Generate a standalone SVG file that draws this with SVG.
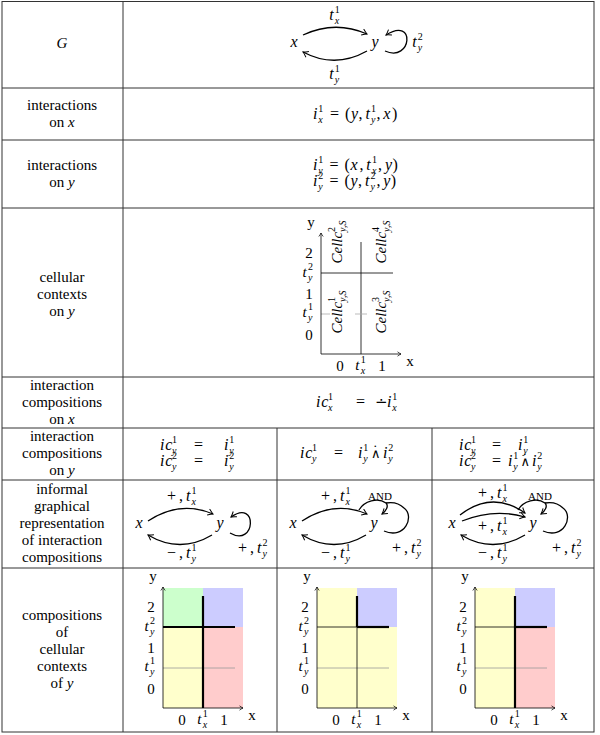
<svg xmlns="http://www.w3.org/2000/svg" xmlns:xlink="http://www.w3.org/1999/xlink" width="600" height="735" viewBox="0 0 600 735" font-family="'Liberation Serif', 'DejaVu Serif', serif">
<style>
.grid{stroke:#333;stroke-width:1;fill:none}
.t{font-family:'Liberation Serif','DejaVu Serif',serif;font-size:15px;fill:#000}
.m{font-size:16px}
.c{text-anchor:middle}
.i{font-style:italic}
.n{font-style:normal}
.s{font-size:10px}
.sym{font-family:'DejaVu Sans',sans-serif}
.e{stroke:#000;stroke-width:1.3;fill:none}
.ea{stroke:#000;stroke-width:1.3;fill:none;marker-end:url(#ah)}
.ax{stroke:#000;stroke-width:0.8;fill:none;marker-end:url(#ax)}
.thin{stroke:#000;stroke-width:0.8;fill:none}
.thick{stroke:#000;stroke-width:2.2;fill:none}
.gray{stroke:#999;stroke-width:0.8;fill:none}
.dash{stroke:#aaa;stroke-width:0.8;fill:none;stroke-dasharray:9 25 12 100}
.sm{font-size:11px}
</style>
<defs>
<marker id="ah" viewBox="-6 -4 7 8" refX="0" refY="0" markerWidth="7" markerHeight="8" orient="auto" markerUnits="userSpaceOnUse">
<path d="M-5,-3.2 Q-1.5,-0.6 0,0 Q-1.5,0.6 -5,3.2" fill="none" stroke="#000" stroke-width="1"/>
</marker>
<marker id="ax" viewBox="-4 -3 5 6" refX="0" refY="0" markerWidth="5" markerHeight="6" orient="auto" markerUnits="userSpaceOnUse">
<path d="M-3.5,-2.2 Q-1,-0.4 0,0 Q-1,0.4 -3.5,2.2" fill="none" stroke="#000" stroke-width="0.7"/>
</marker>
<g id="axes">
<line class="ax" x1="0" y1="0" x2="0" y2="-121"/>
<line class="ax" x1="0" y1="0" x2="80" y2="0"/>
</g>
<g id="ticks">
<text class="t c" x="-10" y="-127">y</text>
<text class="t c" x="89" y="12">x</text>
<text class="t c" x="-12" y="-96">2</text>
<text class="t i"><tspan x="-18.5" y="-77">t</tspan><tspan class="s n" x="-13" y="-84">2</tspan><tspan class="s" x="-13" y="-73">y</tspan></text>
<text class="t c" x="-12" y="-55">1</text>
<text class="t i"><tspan x="-18.5" y="-37">t</tspan><tspan class="s n" x="-13" y="-44">1</tspan><tspan class="s" x="-13" y="-33">y</tspan></text>
<text class="t c" x="-12" y="-14">0</text>
<text class="t c" x="19" y="17">0</text>
<text class="t i"><tspan x="34.2" y="16">t</tspan><tspan class="s n" x="39.8" y="9">1</tspan><tspan class="s" x="39.8" y="20">x</tspan></text>
<text class="t c" x="61" y="17">1</text>
</g>
</defs>
<rect x="0" y="0" width="600" height="735" fill="#fff"/>

<g id="table" class="grid">
<rect x="2" y="1.5" width="592" height="730.5"/>
<line x1="123" y1="1.5" x2="123" y2="732"/>
<line x1="2" y1="88" x2="594" y2="88"/>
<line x1="2" y1="140" x2="594" y2="140"/>
<line x1="2" y1="208" x2="594" y2="208"/>
<line x1="2" y1="377" x2="594" y2="377"/>
<line x1="2" y1="428" x2="594" y2="428"/>
<line x1="2" y1="480" x2="594" y2="480"/>
<line x1="2" y1="568" x2="594" y2="568"/>
<line x1="277" y1="428" x2="277" y2="732"/>
<line x1="432" y1="428" x2="432" y2="732"/>
</g>

<g id="row-labels">
<text class="t i c" x="62" y="48" font-size="17">G</text>
<text class="t c" x="62" y="110">interactions</text>
<text class="t c" x="62" y="127">on <tspan class="i">x</tspan></text>
<text class="t c" x="62" y="170">interactions</text>
<text class="t c" x="62" y="187">on <tspan class="i">y</tspan></text>
<text class="t c" x="62" y="282">cellular</text>
<text class="t c" x="62" y="299">contexts</text>
<text class="t c" x="62" y="316">on <tspan class="i">y</tspan></text>
<text class="t c" x="62" y="390">interaction</text>
<text class="t c" x="62" y="407">compositions</text>
<text class="t c" x="62" y="424">on <tspan class="i">x</tspan></text>
<text class="t c" x="62" y="441">interaction</text>
<text class="t c" x="62" y="458">compositions</text>
<text class="t c" x="62" y="475">on <tspan class="i">y</tspan></text>
<text class="t c" x="62" y="494">informal</text>
<text class="t c" x="62" y="511">graphical</text>
<text class="t c" x="62" y="528">representation</text>
<text class="t c" x="62" y="545">of interaction</text>
<text class="t c" x="62" y="562">compositions</text>
<text class="t c" x="62" y="620">compositions</text>
<text class="t c" x="62" y="637">of</text>
<text class="t c" x="62" y="654">cellular</text>
<text class="t c" x="62" y="671">contexts</text>
<text class="t c" x="62" y="688">of <tspan class="i">y</tspan></text>
</g>

<g id="node-G-x"><text class="t i m c" x="294" y="47">x</text></g>
<g id="node-G-y"><text class="t i m c" x="375" y="47">y</text></g>
<g id="graph-G-labels">
<text class="t i m"><tspan x="329.2" y="20">t</tspan><tspan class="s n" x="334.8" y="13">1</tspan><tspan class="s" x="334.8" y="24">x</tspan></text>
<text class="t i m"><tspan x="329.2" y="79">t</tspan><tspan class="s n" x="334.8" y="72">1</tspan><tspan class="s" x="334.8" y="83">y</tspan></text>
<text class="t i m"><tspan x="412.2" y="47">t</tspan><tspan class="s n" x="417.8" y="40">2</tspan><tspan class="s" x="417.8" y="51">y</tspan></text>
</g>

<g id="formula-ix">
<text class="t i m"><tspan x="313" y="119">i</tspan><tspan class="s n" x="318.3" y="112">1</tspan><tspan class="s" x="318.3" y="123">x</tspan><tspan class="n" x="330" y="119">=</tspan><tspan class="n" x="345.1" y="119">(</tspan><tspan x="351.1" y="119">y</tspan><tspan class="n" x="358.6" y="119">,</tspan><tspan x="365.5" y="119">t</tspan><tspan class="s n" x="371.1" y="112">1</tspan><tspan class="s" x="371.1" y="123">y</tspan><tspan class="n" x="376.4" y="119">,</tspan><tspan x="383.3" y="119">x</tspan><tspan class="n" x="392.1" y="119">)</tspan></text>
</g>

<g id="formula-iy">
<text class="t i m"><tspan x="313" y="170">i</tspan><tspan class="s n" x="318.3" y="163">1</tspan><tspan class="s" x="318.3" y="174">y</tspan><tspan class="n" x="329.5" y="170">=</tspan><tspan class="n" x="344.6" y="170">(</tspan><tspan x="350.6" y="170">x</tspan><tspan class="n" x="359.4" y="170">,</tspan><tspan x="366.3" y="170">t</tspan><tspan class="s n" x="371.9" y="163">1</tspan><tspan class="s" x="371.9" y="174">x</tspan><tspan class="n" x="378.1" y="170">,</tspan><tspan x="385" y="170">y</tspan><tspan class="n" x="392.5" y="170">)</tspan></text>
<text class="t i m"><tspan x="313" y="186">i</tspan><tspan class="s n" x="318.3" y="179">2</tspan><tspan class="s" x="318.3" y="190">y</tspan><tspan class="n" x="329.5" y="186">=</tspan><tspan class="n" x="344.6" y="186">(</tspan><tspan x="350.6" y="186">y</tspan><tspan class="n" x="358.1" y="186">,</tspan><tspan x="365" y="186">t</tspan><tspan class="s n" x="370.6" y="179">2</tspan><tspan class="s" x="370.6" y="190">y</tspan><tspan class="n" x="376.4" y="186">,</tspan><tspan x="383.3" y="186">y</tspan><tspan class="n" x="390.8" y="186">)</tspan></text>
</g>

<g id="cell-contexts" transform="translate(321,354)">
<line class="thin" x1="40" y1="-112" x2="40" y2="0"/>
<line class="thin" x1="0" y1="-81" x2="72" y2="-81"/>
<line class="dash" x1="0" y1="-40" x2="72" y2="-40"/>
<use xlink:href="#axes"/>
<use xlink:href="#ticks"/>
<text class="t i c" transform="translate(19,-112) rotate(-90)" y="2">Cellc<tspan class="s n" dy="-7">2</tspan><tspan class="s" dx="-5" dy="11">y,S</tspan></text>
<text class="t i c" transform="translate(63,-112) rotate(-90)" y="2">Cellc<tspan class="s n" dy="-7">4</tspan><tspan class="s" dx="-5" dy="11">y,S</tspan></text>
<text class="t i c" transform="translate(19,-42) rotate(-90)" y="2">Cellc<tspan class="s n" dy="-7">1</tspan><tspan class="s" dx="-5" dy="11">y,S</tspan></text>
<text class="t i c" transform="translate(63,-42) rotate(-90)" y="2">Cellc<tspan class="s n" dy="-7">3</tspan><tspan class="s" dx="-5" dy="11">y,S</tspan></text>
</g>

<g id="formula-icx">
<text class="t i m"><tspan x="316" y="407">i</tspan><tspan x="321.3" y="407">c</tspan><tspan class="s n" x="328" y="400">1</tspan><tspan class="s" x="328" y="411">x</tspan><tspan class="n" x="356" y="407">=</tspan><tspan class="n sym" x="375" y="407" font-size="15">∸</tspan><tspan x="387" y="407">i</tspan><tspan class="s n" x="392.3" y="400">1</tspan><tspan class="s" x="392.3" y="411">x</tspan></text>
</g>

<g id="formula-icy-a">
<text class="t i m"><tspan x="160" y="450">i</tspan><tspan x="165.3" y="450">c</tspan><tspan class="s n" x="172" y="443">1</tspan><tspan class="s" x="172" y="454">y</tspan><tspan class="n" x="194" y="450">=</tspan><tspan x="224" y="450">i</tspan><tspan class="s n" x="229.3" y="443">1</tspan><tspan class="s" x="229.3" y="454">y</tspan></text>
<text class="t i m"><tspan x="160" y="466">i</tspan><tspan x="165.3" y="466">c</tspan><tspan class="s n" x="172" y="459">2</tspan><tspan class="s" x="172" y="470">y</tspan><tspan class="n" x="194" y="466">=</tspan><tspan x="224" y="466">i</tspan><tspan class="s n" x="229.3" y="459">2</tspan><tspan class="s" x="229.3" y="470">y</tspan></text>
</g>
<g id="formula-icy-b">
<text class="t i m"><tspan x="300" y="458">i</tspan><tspan x="305.3" y="458">c</tspan><tspan class="s n" x="312" y="451">1</tspan><tspan class="s" x="312" y="462">y</tspan><tspan class="n" x="334" y="458">=</tspan><tspan x="358" y="458">i</tspan><tspan class="s n" x="363.3" y="451">1</tspan><tspan class="s" x="363.3" y="462">y</tspan><tspan class="n sym" x="371" y="458" font-size="13">∧</tspan><tspan x="383" y="458">i</tspan><tspan class="s n" x="388.3" y="451">2</tspan><tspan class="s" x="388.3" y="462">y</tspan></text>
<text class="t c" x="375.3" y="455">˙</text>
</g>
<g id="formula-icy-c">
<text class="t i m"><tspan x="459" y="450">i</tspan><tspan x="464.3" y="450">c</tspan><tspan class="s n" x="471" y="443">1</tspan><tspan class="s" x="471" y="454">y</tspan><tspan class="n" x="492" y="450">=</tspan><tspan x="518" y="450">i</tspan><tspan class="s n" x="523.3" y="443">1</tspan><tspan class="s" x="523.3" y="454">y</tspan></text>
<text class="t i m"><tspan x="459" y="466">i</tspan><tspan x="464.3" y="466">c</tspan><tspan class="s n" x="471" y="459">2</tspan><tspan class="s" x="471" y="470">y</tspan><tspan class="n" x="492" y="466">=</tspan><tspan x="508" y="466">i</tspan><tspan class="s n" x="513.3" y="459">1</tspan><tspan class="s" x="513.3" y="470">y</tspan><tspan class="n sym" x="520.5" y="466" font-size="13">∧</tspan><tspan x="532" y="466">i</tspan><tspan class="s n" x="537.3" y="459">2</tspan><tspan class="s" x="537.3" y="470">y</tspan></text>
<text class="t c" x="524.8" y="463">˙</text>
</g>

<g id="node-A-x"><text class="t i m c" x="139" y="528">x</text></g>
<g id="node-A-y"><text class="t i m c" x="220" y="528">y</text></g>
<g id="node-B-x"><text class="t i m c" x="293" y="528">x</text></g>
<g id="node-B-y"><text class="t i m c" x="374" y="528">y</text></g>
<g id="node-C-x"><text class="t i m c" x="452" y="528">x</text></g>
<g id="node-C-y"><text class="t i m c" x="533" y="528">y</text></g>

<g id="informal-labels">
<text class="t i m"><tspan class="n" x="167" y="501">+</tspan><tspan class="n" x="179" y="501">,</tspan><tspan x="185.9" y="501">t</tspan><tspan class="s n" x="191.5" y="494">1</tspan><tspan class="s" x="191.5" y="505">x</tspan></text>
<text class="t i m"><tspan class="n" x="167" y="558">−</tspan><tspan class="n" x="179" y="558">,</tspan><tspan x="185.9" y="558">t</tspan><tspan class="s n" x="191.5" y="551">1</tspan><tspan class="s" x="191.5" y="562">y</tspan></text>
<text class="t i m"><tspan class="n" x="238" y="553">+</tspan><tspan class="n" x="250" y="553">,</tspan><tspan x="256.9" y="553">t</tspan><tspan class="s n" x="262.5" y="546">2</tspan><tspan class="s" x="262.5" y="557">y</tspan></text>

<text class="t i m"><tspan class="n" x="321" y="501">+</tspan><tspan class="n" x="333" y="501">,</tspan><tspan x="339.9" y="501">t</tspan><tspan class="s n" x="345.5" y="494">1</tspan><tspan class="s" x="345.5" y="505">x</tspan></text>
<text class="t sm c" x="380" y="500">AND</text>
<text class="t i m"><tspan class="n" x="321" y="558">−</tspan><tspan class="n" x="333" y="558">,</tspan><tspan x="339.9" y="558">t</tspan><tspan class="s n" x="345.5" y="551">1</tspan><tspan class="s" x="345.5" y="562">y</tspan></text>
<text class="t i m"><tspan class="n" x="392" y="553">+</tspan><tspan class="n" x="404" y="553">,</tspan><tspan x="410.9" y="553">t</tspan><tspan class="s n" x="416.5" y="546">2</tspan><tspan class="s" x="416.5" y="557">y</tspan></text>

<text class="t i m"><tspan class="n" x="478" y="498">+</tspan><tspan class="n" x="490" y="498">,</tspan><tspan x="496.9" y="498">t</tspan><tspan class="s n" x="502.5" y="491">1</tspan><tspan class="s" x="502.5" y="502">x</tspan></text>
<text class="t sm c" x="540" y="500">AND</text>
<text class="t i m"><tspan class="n" x="478" y="531">+</tspan><tspan class="n" x="490" y="531">,</tspan><tspan x="496.9" y="531">t</tspan><tspan class="s n" x="502.5" y="524">1</tspan><tspan class="s" x="502.5" y="535">x</tspan></text>
<text class="t i m"><tspan class="n" x="478" y="558">−</tspan><tspan class="n" x="490" y="558">,</tspan><tspan x="496.9" y="558">t</tspan><tspan class="s n" x="502.5" y="551">1</tspan><tspan class="s" x="502.5" y="562">y</tspan></text>
<text class="t i m"><tspan class="n" x="552" y="553">+</tspan><tspan class="n" x="564" y="553">,</tspan><tspan x="570.9" y="553">t</tspan><tspan class="s n" x="576.5" y="546">2</tspan><tspan class="s" x="576.5" y="557">y</tspan></text>
</g>

<g id="connectors">
<path class="ea" d="M303,35 Q335,20 367,34"/>
<path class="ea" d="M367,51 Q335,69 303,52"/>
<path class="ea" d="M385,51 C412,63 416,16 386,35"/>

<path class="ea" d="M148,521 Q180,500 213,514"/>
<path class="ea" d="M212,535 Q180,554 148,535"/>
<path class="ea" d="M230,533 C256,548 258,498 231,517"/>

<path class="ea" d="M302,521 Q334,500 367,514"/>
<path class="ea" d="M366,535 Q334,554 302,535"/>
<path class="ea" d="M359,510 C364,501 378,497 386,503 C389,506 386,511 382,514"/>
<path class="e" d="M384,531 C405,540 415,516 404,508 C399,503 392,502 386,503"/>

<path class="ea" d="M460,515 Q492,490 525,513"/>
<path class="ea" d="M462,521 Q494,508 525,517"/>
<path class="ea" d="M525,535 Q493,554 461,535"/>
<path class="ea" d="M518,510 C523,501 537,497 545,503 C548,506 545,511 541,514"/>
<path class="e" d="M543,531 C564,540 574,516 563,508 C558,503 551,502 545,503"/>
</g>

<g id="panel-a" transform="translate(163,708)">
<rect x="0" y="-120" width="40" height="39" fill="#ccffcc"/>
<rect x="40" y="-120" width="40" height="39" fill="#ccccff"/>
<rect x="0" y="-81" width="40" height="81" fill="#ffffcc"/>
<rect x="40" y="-81" width="40" height="81" fill="#ffcccc"/>
<line class="gray" x1="0" y1="-40" x2="72" y2="-40"/>
<line class="thick" x1="40" y1="-112" x2="40" y2="0"/>
<line class="thick" x1="0" y1="-81" x2="72" y2="-81"/>
<use xlink:href="#axes"/>
<use xlink:href="#ticks"/>
</g>
<g id="panel-b" transform="translate(317,708)">
<rect x="0" y="-120" width="80" height="120" fill="#ffffcc"/>
<rect x="40" y="-120" width="40" height="39" fill="#ccccff"/>
<line class="gray" x1="0" y1="-40" x2="72" y2="-40"/>
<line class="thin" x1="40" y1="-81" x2="40" y2="0"/>
<line class="thin" x1="0" y1="-81" x2="40" y2="-81"/>
<line class="thick" x1="40" y1="-112" x2="40" y2="-81"/>
<line class="thick" x1="40" y1="-81" x2="72" y2="-81"/>
<use xlink:href="#axes"/>
<use xlink:href="#ticks"/>
</g>
<g id="panel-c" transform="translate(475,708)">
<rect x="0" y="-120" width="40" height="120" fill="#ffffcc"/>
<rect x="40" y="-120" width="40" height="39" fill="#ccccff"/>
<rect x="40" y="-81" width="40" height="81" fill="#ffcccc"/>
<line class="gray" x1="0" y1="-40" x2="72" y2="-40"/>
<line class="thin" x1="0" y1="-81" x2="40" y2="-81"/>
<line class="thick" x1="40" y1="-112" x2="40" y2="0"/>
<line class="thick" x1="40" y1="-81" x2="72" y2="-81"/>
<use xlink:href="#axes"/>
<use xlink:href="#ticks"/>
</g>
</svg>
